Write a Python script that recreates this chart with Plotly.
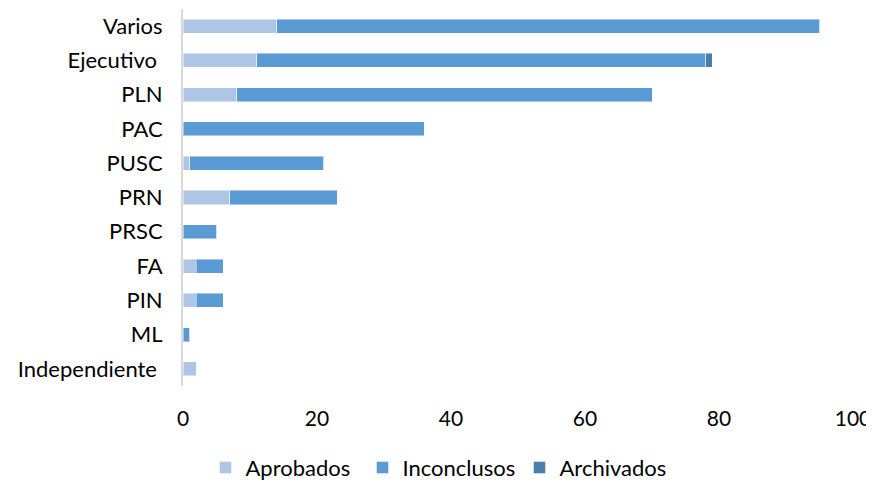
import plotly.graph_objects as go

categories = ["Varios", "Ejecutivo\u00a0", "PLN", "PAC", "PUSC", "PRN", "PRSC", "FA", "PIN", "ML", "Independiente\u00a0"]
aprobados = [14, 11, 8, 0, 1, 7, 0, 2, 2, 0, 2]
inconclusos = [81, 67, 62, 36, 20, 16, 5, 4, 4, 1, 0]
archivados = [0, 1, 0, 0, 0, 0, 0, 0, 0, 0, 0]
x_ticks = [0, 20, 40, 60, 80, 100]

series = [
    ("Aprobados", aprobados, "#adc6e6"),
    ("Inconclusos", inconclusos, "#5b9bd5"),
    ("Archivados", archivados, "#4a7eb0"),
]

fig = go.Figure()
for name, vals, color in series:
    fig.add_trace(go.Bar(
        y=categories, x=vals, name=name, orientation="h",
        marker=dict(color=color, line=dict(color="rgba(255,255,255,0.45)", width=1)),
    ))

# page body has an 8px margin, so the figure is sized/offset accordingly
fig.update_layout(
    barmode="stack",
    bargap=0.59,
    width=866, height=475,
    margin=dict(l=175, r=21, t=1, b=97),
    plot_bgcolor="white", paper_bgcolor="white",
    font=dict(family="Lato, Open Sans, sans-serif", size=22, color="#000000"),
    showlegend=True,
    legend=dict(orientation="h", xref="container", yref="container",
                x=0.5, xanchor="center", y=0.032, yanchor="middle",
                font=dict(size=22), entrywidth=112, entrywidthmode="pixels",
                traceorder="normal"),
    xaxis=dict(range=[0, 100], tickvals=x_ticks, showgrid=False, zeroline=False,
               showline=False, ticks="outside", ticklen=14, tickcolor="rgba(0,0,0,0)",
               tickfont=dict(size=21), automargin=False),
    yaxis=dict(autorange="reversed", showgrid=False, zeroline=False,
               showline=True, linecolor="#d9d9d9", linewidth=2,
               ticks="outside", ticklen=14, tickcolor="rgba(0,0,0,0)",
               tickfont=dict(size=22), automargin=False),
)

fig.write_html("out.html")
